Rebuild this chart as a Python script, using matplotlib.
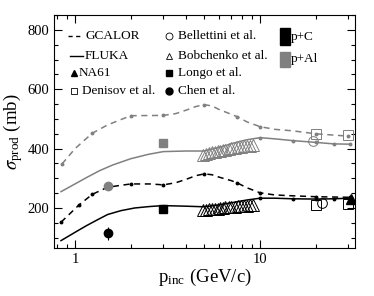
import numpy as np
import matplotlib.pyplot as plt
from matplotlib.patches import Rectangle
from matplotlib.ticker import LogLocator, MultipleLocator, NullFormatter, FixedLocator

plt.rcParams['font.family'] = ['Liberation Serif', 'DejaVu Serif']
plt.rcParams['mathtext.fontset'] = 'stix'

gray = '#808080'

# model curves
gcal_al_x = [0.85, 1.0, 1.24, 1.5, 2.0, 3.0, 3.5, 4.0, 4.5, 5.0, 5.5, 6.0, 7.5, 8.5, 10, 12, 15, 20, 30]
gcal_al_y = [348, 400, 452, 480, 511, 512, 518, 530, 542, 548, 544, 532, 508, 490, 474, 465, 460, 450, 442]
gcal_al_nx = [0.85, 1.24, 2.0, 3.0, 5.0, 7.5, 10, 20, 30]
gcal_al_ny = [348, 452, 511, 512, 548, 508, 474, 450, 442]

fluka_al_x = [0.84, 1.0, 1.15, 1.36, 1.6, 2.0, 2.5, 3.0, 4.0, 5.0, 6.0, 7.5, 8.5, 10, 12, 15, 20, 25, 30.6]
fluka_al_y = [255, 281, 302, 326, 345, 366, 381, 390, 392, 392, 404, 422, 430, 437, 433, 427, 421, 416, 415]
fluka_al_nx = [10, 15, 20, 25, 30.6]
fluka_al_ny = [437, 427, 421, 416, 415]

gcal_c_x = [0.84, 1.05, 1.24, 1.5, 2.0, 2.54, 3.0, 3.5, 4.0, 4.5, 5.0, 5.5, 6.0, 7.0, 7.5, 8.5, 10, 12, 15, 20, 30.6]
gcal_c_y = [152, 210, 246, 270, 281, 281, 278, 285, 297, 309, 315, 312, 304, 292, 285, 268, 251, 244, 241, 238, 236]
gcal_c_nx = [0.84, 1.05, 1.24, 2.0, 3.0, 5.0, 7.5, 10, 20, 30.6]
gcal_c_ny = [152, 210, 246, 281, 278, 315, 285, 251, 238, 236]

fluka_c_x = [0.84, 1.0, 1.15, 1.32, 1.5, 1.77, 2.1, 2.54, 3.0, 4.0, 5.0, 6.0, 7.5, 8.5, 10, 12, 15, 20, 25, 30.6]
fluka_c_y = [90, 118, 140, 160, 178, 191, 200, 205, 208, 206, 204, 210, 221, 227, 233, 233, 231, 230, 231, 233]
fluka_c_nx = [10, 15, 20, 25, 30.6]
fluka_c_ny = [233, 231, 230, 231, 233]

# measurements
bob_x = [4.9, 5.1, 5.3, 5.5, 5.7, 5.9, 6.1, 6.3, 6.5, 6.8, 7.0, 7.3, 7.6, 7.9, 8.2, 8.5, 8.8, 9.2]
bob_c = [192, 193, 195, 196, 197, 198, 200, 201, 202, 203, 204, 205, 206, 207, 208, 208, 209, 210]
bob_al = [380, 382, 385, 387, 389, 391, 393, 395, 397, 399, 401, 403, 404, 406, 408, 409, 410, 412]

chen_x = [1.5]
chen_c, chen_c_err = [115], [22]
chen_al = [274]
longo_x = [3.0]
longo_c = [197]
longo_al, longo_al_err = [419], [12]
bell_c_x, bell_c = [21.5], [217]
bell_al_x, bell_al = [19.3], [426]
den_x = [20, 30]
den_c = [210, 213]
den_al = [450, 446]
na61_x, na61_c = [31], [229]

fig = plt.figure(figsize=(3.74, 2.96), dpi=100)
ax = fig.add_axes([0.1444, 0.162, 0.805, 0.787])

lw = 1.1
ax.plot(gcal_al_x, gcal_al_y, '--', color=gray, lw=lw, dashes=(4, 3))
ax.plot(gcal_al_nx, gcal_al_ny, 'o', color=gray, ms=1.8)
ax.plot(fluka_al_x, fluka_al_y, '-', color=gray, lw=lw)
ax.plot(fluka_al_nx, fluka_al_ny, 'o', color=gray, ms=1.8)
ax.plot(gcal_c_x, gcal_c_y, '--', color='k', lw=lw, dashes=(4, 3))
ax.plot(gcal_c_nx, gcal_c_ny, 'o', color='k', ms=1.8)
ax.plot(fluka_c_x, fluka_c_y, '-', color='k', lw=lw)
ax.plot(fluka_c_nx, fluka_c_ny, 'o', color='k', ms=1.8)

ax.plot(bob_x, bob_c, '^', mfc='none', mec='k', ms=8, mew=0.7)
ax.plot(bob_x, bob_al, '^', mfc='none', mec=gray, ms=8, mew=0.7)

ax.errorbar(chen_x, chen_c, yerr=chen_c_err, fmt='o', color='k', ms=6, elinewidth=0.8, capsize=0)
ax.plot(chen_x, chen_al, 'o', color=gray, ms=6)
ax.plot(longo_x, longo_c, 's', color='k', ms=6)
ax.errorbar(longo_x, longo_al, yerr=longo_al_err, fmt='s', color=gray, ms=6, elinewidth=0.8, capsize=0)
ax.plot(bell_c_x, bell_c, 'o', mfc='none', mec='k', ms=7, mew=0.7)
ax.plot(bell_al_x, bell_al, 'o', mfc='none', mec=gray, ms=7, mew=0.7)
ax.plot(den_x, den_c, 's', mfc='none', mec='k', ms=7, mew=0.7)
ax.plot(den_x, den_al, 's', mfc='none', mec=gray, ms=7, mew=0.7)
ax.plot(na61_x, na61_c, '^', color='k', ms=7)

ax.set_xscale('log')
ax.set_xlim(0.77, 32.6)
ax.set_ylim(65, 850)
ax.xaxis.set_major_locator(FixedLocator([1, 10]))
ax.set_xticklabels(['1', '10'])
ax.xaxis.set_minor_locator(LogLocator(base=10, subs=np.arange(2, 10)))
ax.xaxis.set_minor_formatter(NullFormatter())
ax.yaxis.set_major_locator(MultipleLocator(200))
ax.yaxis.set_minor_locator(MultipleLocator(50))
ax.tick_params(which='both', direction='in', top=True, right=True, labelsize=10.5)
ax.tick_params(which='major', length=6, width=0.8)
ax.tick_params(which='minor', length=3, width=0.8)
for s in ax.spines.values():
    s.set_linewidth(0.8)

ax.set_xlabel(r'p$_{\mathregular{inc}}$ (GeV/c)', fontsize=13.5, labelpad=1)
ax.set_ylabel(r'$\sigma_{\mathregular{prod}}$ (mb)', fontsize=13.5, labelpad=2)

# legend drawn by hand
tr = ax.transAxes
fs = 9.5
rows = [0.910, 0.824, 0.750, 0.676]
ax.plot([0.046, 0.090], [rows[0]] * 2, '--', color='k', lw=1, dashes=(3, 2.5), transform=tr)
ax.text(0.103, rows[0], 'GCALOR', fontsize=fs, va='center', transform=tr)
ax.plot([0.053, 0.096], [rows[1]] * 2, '-', color='k', lw=1, transform=tr)
ax.text(0.103, rows[1], 'FLUKA', fontsize=fs, va='center', transform=tr)
ax.plot([0.066], [rows[2]], '^', color='k', ms=5, transform=tr)
ax.text(0.083, rows[2], 'NA61', fontsize=fs, va='center', transform=tr)
ax.plot([0.066], [rows[3]], 's', mfc='none', mec='k', ms=5, mew=0.6, transform=tr)
ax.text(0.094, rows[3], 'Denisov et al.', fontsize=fs, va='center', transform=tr)

cx, tx = 0.383, 0.413
ax.plot([cx], [rows[0]], 'o', mfc='none', mec='k', ms=5, mew=0.6, transform=tr)
ax.text(tx, rows[0], 'Bellettini et al.', fontsize=fs, va='center', transform=tr)
ax.plot([cx], [rows[1]], '^', mfc='none', mec='k', ms=5, mew=0.6, transform=tr)
ax.text(tx, rows[1], 'Bobchenko et al.', fontsize=fs, va='center', transform=tr)
ax.plot([cx], [rows[2]], 's', color='k', ms=4.5, transform=tr)
ax.text(tx, rows[2], 'Longo et al.', fontsize=fs, va='center', transform=tr)
ax.plot([cx], [rows[3]], 'o', color='k', ms=5, transform=tr)
ax.text(tx, rows[3], 'Chen et al.', fontsize=fs, va='center', transform=tr)

ax.add_patch(Rectangle((0.749, 0.871), 0.035, 0.072, color='k', transform=tr))
ax.text(0.788, 0.907, 'p+C', fontsize=fs, va='center', transform=tr)
ax.add_patch(Rectangle((0.749, 0.778), 0.035, 0.064, color=gray, transform=tr))
ax.text(0.788, 0.810, 'p+Al', fontsize=fs, va='center', transform=tr)

fig.savefig('out.png', dpi=100)
